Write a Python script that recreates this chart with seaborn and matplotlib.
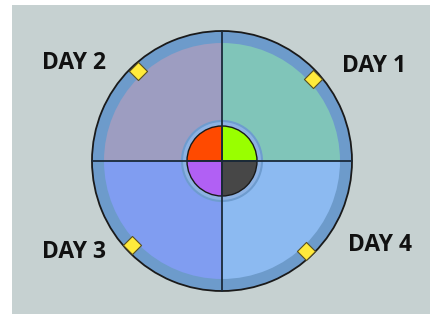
import matplotlib
matplotlib.use("Agg")
import matplotlib.pyplot as plt
import numpy as np
import seaborn as sns

# four days, equal quarters of the wheel
days = ["DAY 1", "DAY 2", "DAY 3", "DAY 4"]
shares = [1, 1, 1, 1]
day_colors = ["#80c5b9", "#9d9dc1", "#809df1", "#8cbaf1"]
hub_colors = ["#99ff00", "#ff4a00", "#b160f4", "#474747"]
marker_angles = [42, 133, 223, 313]
label_xy = [(374, 248), (74, 251), (74, 62), (380, 69)]

sns.set_theme(style="white")
plt.rcParams["font.family"] = ["Open Sans", "DejaVu Sans"]

fig = plt.figure(figsize=(4.30, 3.14), dpi=100)
fig.patch.set_facecolor("white")
ax = fig.add_axes([12 / 430, 0, 418 / 430, 309 / 314])
ax.set_facecolor("#c6d1d1")
sns.despine(ax=ax, left=True, bottom=True)

cx, cy = 222, 153

# outer ring
ax.pie([1], radius=130, center=(cx, cy), colors=["#6d9bcb"],
       wedgeprops=dict(edgecolor="#1a1a1a", linewidth=1.3), frame=True)
# day quarters
ax.pie(shares, radius=118, center=(cx, cy), colors=day_colors, startangle=0,
       counterclock=True, wedgeprops=dict(edgecolor="none"), frame=True)
# cross lines
ax.plot([cx - 130, cx + 130], [cy, cy], color="#1a2a3a", lw=1.3)
ax.plot([cx, cx], [cy - 130, cy + 130], color="#1a2a3a", lw=1.3)
# hub halo and hub
ax.pie([1], radius=40, center=(cx, cy), colors=["#8db2e3"],
       wedgeprops=dict(edgecolor="#6e9ccf", linewidth=1.5), frame=True)
ax.pie(shares, radius=35, center=(cx, cy), colors=hub_colors, startangle=0,
       counterclock=True, wedgeprops=dict(edgecolor="#1a1a1a", linewidth=1.0),
       frame=True)

ax.set_xlim(12, 430)
ax.set_ylim(0, 309)
ax.set_aspect("equal")
ax.set_xticks([])
ax.set_yticks([])

# yellow markers on the ring
ang = np.radians(marker_angles)
ax.scatter(cx + 123 * np.cos(ang), cy + 123 * np.sin(ang), marker="D", s=85,
           color="#ffea3c", edgecolor="#5a5020", linewidth=0.8, zorder=5)

for name, (x, y) in zip(days, label_xy):
    ax.text(x, y, name, ha="center", va="center", fontsize=16.5,
            fontweight="bold", color="#111111")

fig.savefig("out.png", dpi=100, facecolor=fig.get_facecolor())
